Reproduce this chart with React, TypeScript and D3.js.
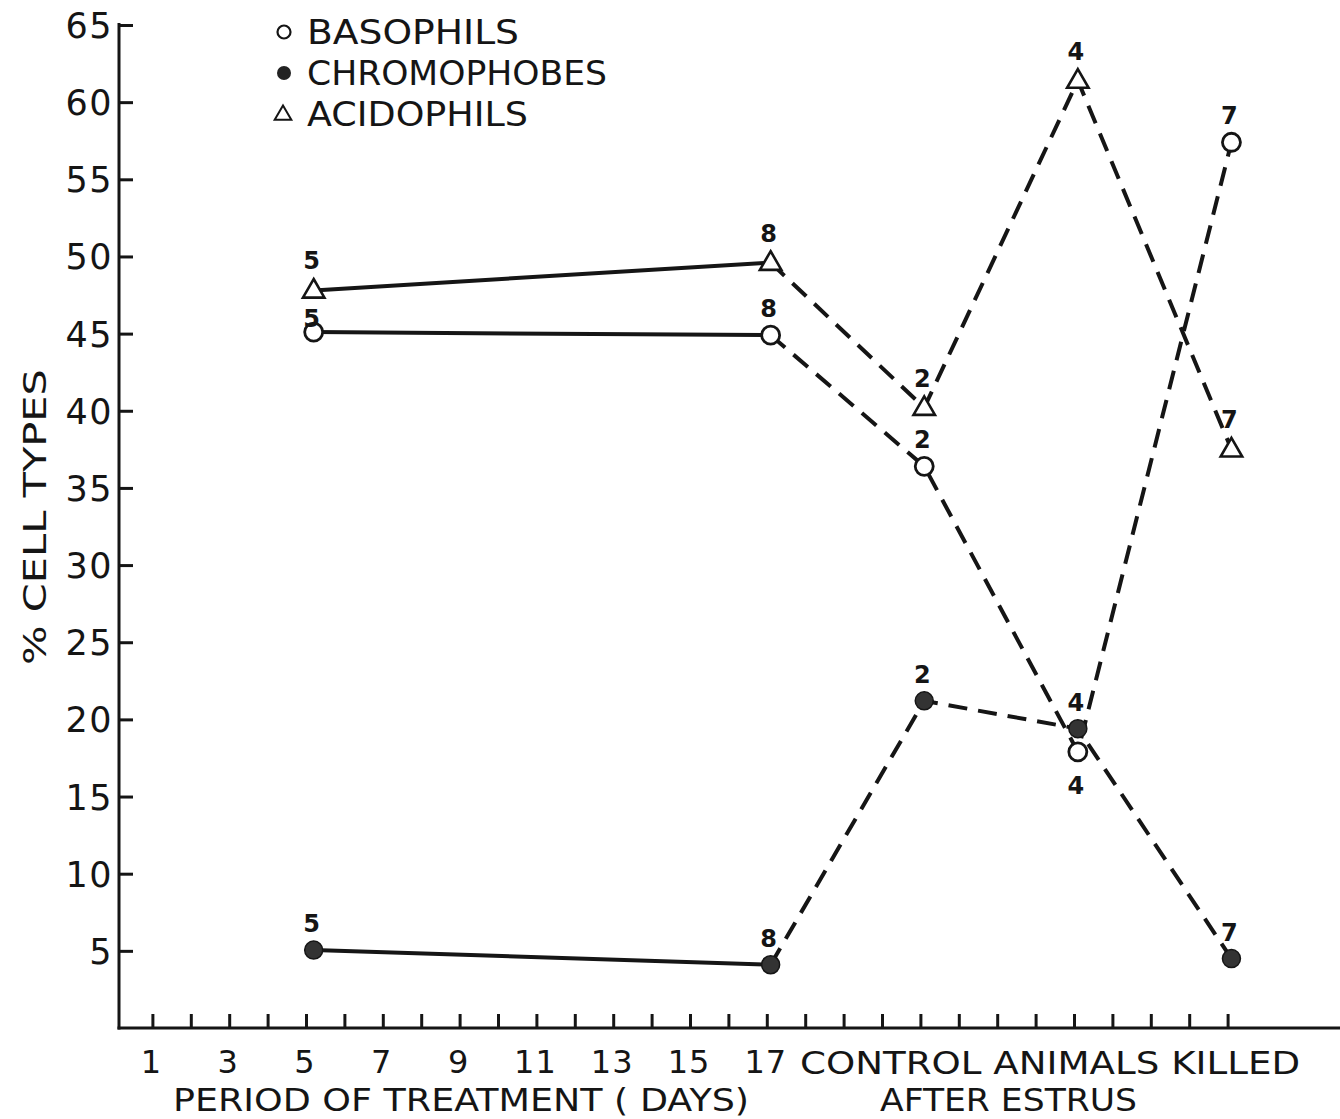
import React, { useEffect, useRef } from 'react';
import * as d3 from 'd3';

// x positions in day units (treatment days 5 and 17, then control animals)
const days = [5.2, 17.1, 21.1, 25.1, 29.1];
const basophils = [45.1, 44.9, 36.4, 17.9, 57.4];
const chromophobes = [5.05, 4.1, 21.2, 19.4, 4.5];
const acidophils = [47.8, 49.6, 40.2, 61.4, 37.5];
const sampleSizes = [5, 8, 2, 4, 7];

const yTicks = [5, 10, 15, 20, 25, 30, 35, 40, 45, 50, 55, 60, 65];
const dayTicks = d3.range(1, 30);
const dayLabels = [1, 3, 5, 7, 9, 11, 13, 15, 17];

const seriesNames = ['BASOPHILS', 'CHROMOPHOBES', 'ACIDOPHILS'];

const W = 1340;
const H = 1119;
const INK = '#151515';
const FONT = '"DejaVu Sans", "Liberation Sans", sans-serif';

function App() {
  const svgRef = useRef<SVGSVGElement | null>(null);

  useEffect(() => {
    const svg = d3.select(svgRef.current);
    svg.selectAll('*').remove();

    const x = d3.scaleLinear().domain([0, 29]).range([114, 1227.6]);
    const y = d3.scaleLinear().domain([0, 65]).range([1028, 25]);

    const axisX = 119;

    // y axis
    svg.append('line')
      .attr('x1', axisX).attr('x2', axisX)
      .attr('y1', y(65) - 2).attr('y2', y(0) + 1.5)
      .attr('stroke', INK).attr('stroke-width', 3);

    const yAxis = svg.append('g')
      .attr('transform', `translate(${axisX},0)`)
      .call(d3.axisRight(y).tickValues(yTicks).tickSize(14).tickFormat(() => ''));
    yAxis.select('.domain').remove();
    yAxis.selectAll('line').attr('stroke', INK).attr('stroke-width', 3);

    svg.append('g').selectAll('text')
      .data(yTicks)
      .enter()
      .append('text')
      .attr('x', axisX - 6)
      .attr('y', d => y(d) + 13)
      .attr('text-anchor', 'end')
      .attr('font-family', FONT)
      .attr('font-size', 35)
      .attr('letter-spacing', 1.5)
      .attr('fill', INK)
      .text(d => String(d));

    // x axis
    svg.append('line')
      .attr('x1', axisX - 1.5).attr('x2', W)
      .attr('y1', y(0)).attr('y2', y(0))
      .attr('stroke', INK).attr('stroke-width', 3);

    const xAxis = svg.append('g')
      .attr('transform', `translate(0,${y(0)})`)
      .call(d3.axisTop(x).tickValues(dayTicks).tickSize(14).tickFormat(() => ''));
    xAxis.select('.domain').remove();
    xAxis.selectAll('line').attr('stroke', INK).attr('stroke-width', 3);

    svg.append('g').selectAll('text')
      .data(dayLabels)
      .enter()
      .append('text')
      .attr('x', d => x(d) - 1)
      .attr('y', 1073)
      .attr('text-anchor', 'middle')
      .attr('font-family', FONT)
      .attr('font-size', 32)
      .attr('letter-spacing', 1)
      .attr('fill', INK)
      .text(d => String(d));

    const axisText = (txt: string, tx: number, ty: number, len: number) =>
      svg.append('text')
        .attr('x', tx).attr('y', ty)
        .attr('font-family', FONT)
        .attr('font-size', 32)
        .attr('fill', INK)
        .attr('textLength', len)
        .attr('lengthAdjust', 'spacingAndGlyphs')
        .text(txt);

    axisText('CONTROL ANIMALS KILLED', 800, 1074, 500);
    axisText('PERIOD OF TREATMENT ( DAYS)', 173, 1111, 576);
    axisText('AFTER ESTRUS', 880, 1111, 257);

    svg.append('text')
      .attr('transform', 'translate(46,517) rotate(-90)')
      .attr('text-anchor', 'middle')
      .attr('font-family', FONT)
      .attr('font-size', 32)
      .attr('fill', INK)
      .attr('textLength', 296)
      .attr('lengthAdjust', 'spacingAndGlyphs')
      .text('% CELL TYPES');

    // lines: first segment solid (treatment), rest dashed
    const line = d3.line<[number, number]>()
      .x(d => x(d[0]))
      .y(d => y(d[1]));

    const allSeries = [basophils, chromophobes, acidophils];
    allSeries.forEach(vals => {
      const pts: [number, number][] = days.map((d, i) => [d, vals[i]]);
      svg.append('path')
        .attr('d', line(pts.slice(0, 2)))
        .attr('fill', 'none')
        .attr('stroke', INK)
        .attr('stroke-width', 4);
      svg.append('path')
        .attr('d', line(pts.slice(1)))
        .attr('fill', 'none')
        .attr('stroke', INK)
        .attr('stroke-width', 4)
        .attr('stroke-dasharray', '19,11');
    });

    const tri = d3.symbol().type(d3.symbolTriangle).size(200);

    // markers
    svg.append('g').selectAll('circle')
      .data(basophils)
      .enter()
      .append('circle')
      .attr('cx', (d, i) => x(days[i]))
      .attr('cy', d => y(d))
      .attr('r', 9)
      .attr('fill', '#fff')
      .attr('stroke', INK)
      .attr('stroke-width', 2.8);

    svg.append('g').selectAll('circle')
      .data(chromophobes)
      .enter()
      .append('circle')
      .attr('cx', (d, i) => x(days[i]))
      .attr('cy', d => y(d))
      .attr('r', 9)
      .attr('fill', '#333')
      .attr('stroke', INK)
      .attr('stroke-width', 1.5);

    svg.append('g').selectAll('path')
      .data(acidophils)
      .enter()
      .append('path')
      .attr('d', tri)
      .attr('transform', (d, i) => `translate(${x(days[i])},${y(d) + 1})`)
      .attr('fill', '#fff')
      .attr('stroke', INK)
      .attr('stroke-width', 2.6);

    // sample size labels
    const labelData: { v: number; i: number; dy: number }[] = [];
    basophils.forEach((v, i) => labelData.push({ v, i, dy: i === 3 ? 42 : (i === 0 ? -5 : -18) }));
    chromophobes.forEach((v, i) => labelData.push({ v, i, dy: -18 }));
    acidophils.forEach((v, i) => labelData.push({ v, i, dy: -21 }));

    svg.append('g').selectAll('text')
      .data(labelData)
      .enter()
      .append('text')
      .attr('x', d => x(days[d.i]) - 2)
      .attr('y', d => y(d.v) + d.dy)
      .attr('text-anchor', 'middle')
      .attr('font-family', FONT)
      .attr('font-size', 24)
      .attr('font-weight', 600)
      .attr('fill', INK)
      .text(d => String(sampleSizes[d.i]));

    // legend
    const legend = svg.append('g');
    const ly = [32, 73, 114];
    legend.append('circle')
      .attr('cx', 284).attr('cy', ly[0]).attr('r', 6.5)
      .attr('fill', '#fff').attr('stroke', INK).attr('stroke-width', 2.2);
    legend.append('circle')
      .attr('cx', 284).attr('cy', ly[1]).attr('r', 7)
      .attr('fill', '#222');
    legend.append('path')
      .attr('d', d3.symbol().type(d3.symbolTriangle).size(120)())
      .attr('transform', `translate(283,${ly[2] + 1})`)
      .attr('fill', '#fff').attr('stroke', INK).attr('stroke-width', 2);

    legend.selectAll('text')
      .data(seriesNames)
      .enter()
      .append('text')
      .attr('x', 307)
      .attr('y', (d, i) => ly[i] + 12)
      .attr('font-family', FONT)
      .attr('font-size', 33)
      .attr('fill', INK)
      .attr('textLength', (d, i) => [212, 300, 221][i])
      .attr('lengthAdjust', 'spacingAndGlyphs')
      .text(d => d);
  }, []);

  return (
    <svg
      ref={svgRef}
      width={W}
      height={H}
      style={{ position: 'absolute', left: 0, top: 0, background: '#fff' }}
    />
  );
}

export default App;
